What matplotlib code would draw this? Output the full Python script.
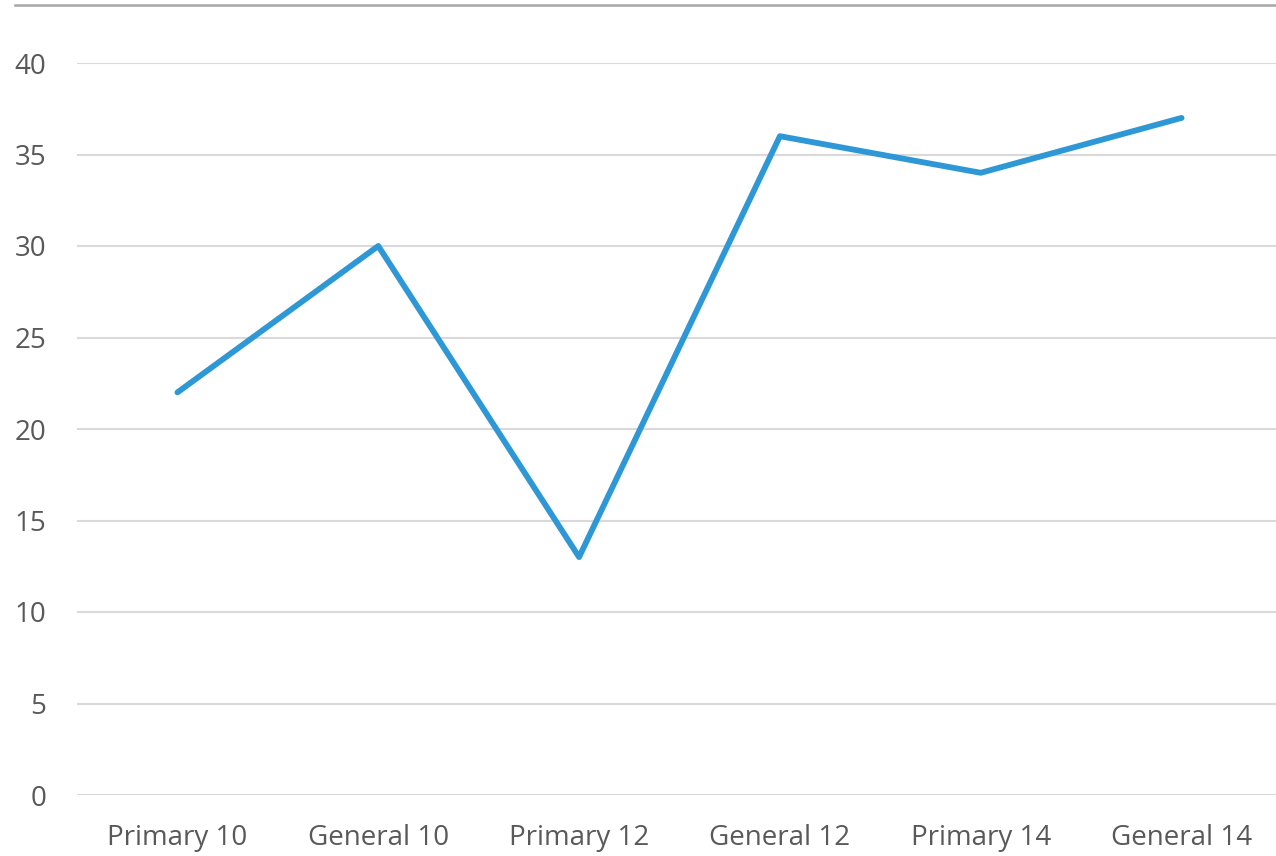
import matplotlib
matplotlib.use("Agg")
import matplotlib.pyplot as plt
from matplotlib.lines import Line2D

categories = ["Primary 10", "General 10", "Primary 12", "General 12", "Primary 14", "General 14"]
values = [22, 30, 13, 36, 34, 37]
yticks = [0, 5, 10, 15, 20, 25, 30, 35, 40]

W, H = 1276, 856
fig = plt.figure(figsize=(W/100, H/100), dpi=100)
ax = fig.add_axes([77/W, 1 - 795/H, 1205/W, (795-63)/H])

x = list(range(len(categories)))
ax.plot(x, values, color="#2e98d6", lw=4.2, solid_capstyle="round", solid_joinstyle="round", clip_on=False, zorder=3)
ax.set_xlim(-0.5, len(categories) - 0.5)
ax.set_ylim(0, 40)
ax.set_yticks(yticks)
ax.set_xticks(x)
ax.set_xticklabels(categories)
ax.grid(axis="y", color="#d9d9d9", lw=1.5)
ax.set_axisbelow(True)
for s in ax.spines.values():
    s.set_visible(False)
ax.tick_params(length=0, labelsize=20, labelcolor="#595959")
ax.tick_params(axis="y", pad=22)
ax.tick_params(axis="x", pad=21)
for t in ax.get_xticklabels() + ax.get_yticklabels():
    t.set_fontfamily("Open Sans")

fig.add_artist(Line2D([15/W, 1], [1 - 4.5/H, 1 - 4.5/H], color="#a6a6a6", lw=1.8, transform=fig.transFigure))

fig.savefig("out.png", dpi=100, facecolor="white")
